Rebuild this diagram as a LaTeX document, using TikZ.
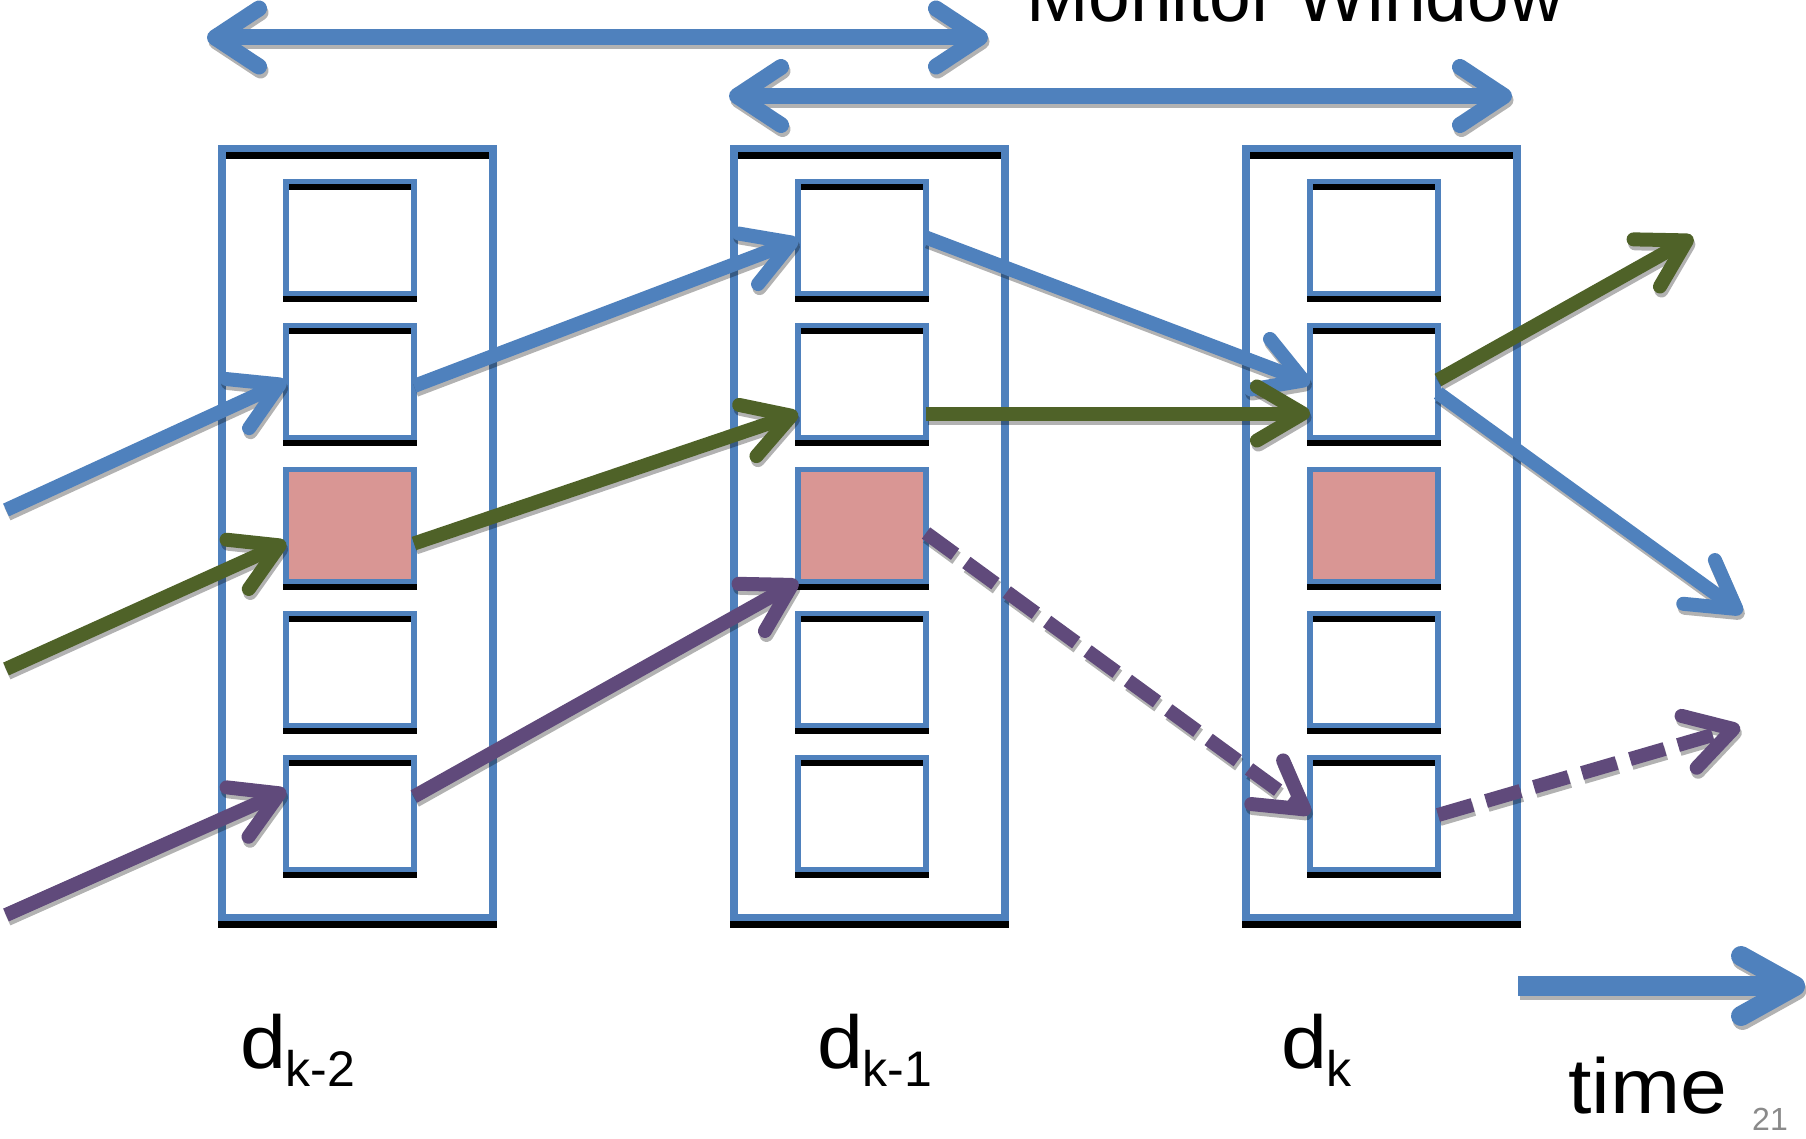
\documentclass[tikz,border=0pt]{standalone}
\usepackage{fontspec}
\setmainfont{Liberation Sans}
\usepackage{graphicx}
\usetikzlibrary{arrows.meta,calc}
\definecolor{oblue}{HTML}{4F81BD}
\definecolor{ogreen}{HTML}{4F6228}
\definecolor{opurple}{HTML}{604A7B}
\definecolor{opink}{HTML}{D99694}
\definecolor{pgnum}{HTML}{8A8A8A}
\pgfdeclarelayer{bglayer}
\pgfdeclarelayer{shadowlayer}
\pgfsetlayers{bglayer,shadowlayer,main}
\newcommand\dsub[1]{\scalebox{1.1}[1]{d}\raisebox{-18pt}{\fontsize{50}{50}\selectfont #1}}
\newcommand\flows{%
  \draw[span,bflow] (w1a) -- (w1b);
  \draw[span,bflow] (w2a) -- (w2b);
  \draw[timearrow,bflow] (t0) -- (t1);
  \draw[conn,bflow] (bin) -- (c1-2.west);
  \draw[conn,bflow] ($(c1-2.east)+(0,4.5)$) -- ($(c2-1.west)+(0,2.5)$);
  \draw[conn,bflow] (c2-1.east) -- ($(c3-2.west)+(0,1.5)$);
  \draw[conn,bflow] ($(c3-2.east)+(0,11.5)$) -- (bout);
  \draw[conn,gflow] (gin) -- ($(c1-3.west)+(0,17)$);
  \draw[conn,gflow] ($(c1-3.east)+(0,18)$) -- ($(c2-2.west)+(0,32)$);
  \draw[conn,gflow] ($(c2-2.east)+(0,32)$) -- ($(c3-2.west)+(0,32)$);
  \draw[conn,gflow] ($(c3-2.east)+(0,-1.5)$) -- (gout);
  \draw[conn,pflow] (pin) -- ($(c1-5.west)+(0,-23)$);
  \draw[conn,pflow] ($(c1-5.east)+(0,-17)$) -- (c2-3.south west);
  \draw[conn,pflow,dashed flow] ($(c2-3.east)+(0,7.5)$) -- (c3-5.west);
  \draw[conn,pflow,dashed flow] ($(c3-5.east)+(0,1.5)$) -- (pout);
}
\begin{document}
\begin{tikzpicture}[x=1pt,y=-1pt,
  column/.style={draw=oblue, line width=7.5pt, rectangle, inner sep=0pt, outer sep=0pt,
    minimum width=271pt, minimum height=769pt},
  cell/.style={draw=oblue, line width=5.5pt, rectangle, inner sep=0pt, outer sep=0pt,
    minimum width=128pt, minimum height=112pt},
  conn/.style={line width=14pt, -{Straight Barb[length=46pt,width=54pt,round]}},
  span/.style={line width=16pt,
    {Straight Barb[length=44pt,width=58pt,round]}-{Straight Barb[length=44pt,width=58pt,round]}},
  timearrow/.style={line width=20pt, -{Straight Barb[length=54pt,width=60pt,round]}},
  bflow/.style={draw=oblue},
  gflow/.style={draw=ogreen},
  pflow/.style={draw=opurple},
  dashed flow/.style={dash pattern=on 36pt off 14pt},
  lbl/.style={inner sep=0pt, outer sep=0pt, font=\fontsize{75}{80}\selectfont}]
\useasboundingbox (0,0) rectangle (1806,1139);
\clip (0,0) rectangle (1806,1139);
\begin{pgfonlayer}{bglayer}
  \fill[white] (0,0) rectangle (1806,1139);
\end{pgfonlayer}
% columns and cells
\foreach \i in {1,2,3}{
  \node[column] (col\i) at ({357.5+512*(\i-1)},533) {};
  \foreach \j/\f in {1/none,2/none,3/opink,4/none,5/none}
    \node[cell, fill=\f] (c\i-\j) at ({350+512*(\i-1)},{237.5+144*(\j-1)}) {};
}
% box shadows
\begin{pgfonlayer}{shadowlayer}
\foreach \i in {1,2,3}{
  \draw[black,line width=7.5pt] ($(col\i.north west)+(0,6.5)$) rectangle ($(col\i.south east)+(0,6.5)$);
  \foreach \j in {1,...,5}
    \draw[black,line width=5.5pt] ($(c\i-\j.north west)+(0,5.5)$) rectangle ($(c\i-\j.south east)+(0,5.5)$);
}
\end{pgfonlayer}
% free ends
\coordinate (w1a) at (207,37.5);
\coordinate (w1b) at (988,37.5);
\coordinate (w2a) at (729,96);
\coordinate (w2b) at (1512,96);
\coordinate (t0) at (1518,986);
\coordinate (t1) at (1805,986);
\coordinate (bin) at (6,510);
\coordinate (bout) at (1742,613);
\coordinate (gin) at (6,669);
\coordinate (gout) at (1693,237);
\coordinate (pin) at (6,915);
\coordinate (pout) at (1740,727);
% arrow shadows
\begin{scope}[transform canvas={shift={(1.5pt,-4pt)}},
  bflow/.style={draw=black,draw opacity=.3},
  gflow/.style={draw=black,draw opacity=.3},
  pflow/.style={draw=black,draw opacity=.3}]
  \flows
\end{scope}
\flows
% labels
\node[lbl, anchor=base west] (mw) at (1026,22) {Monitor Window};
\node[lbl, anchor=base west] (dk2) at (240,1068) {\dsub{k-2}};
\node[lbl, anchor=base west] (dk1) at (817,1068) {\dsub{k-1}};
\node[lbl, anchor=base west] (dk0) at (1281,1068) {\dsub{k}};
\node[lbl, anchor=base west, font=\fontsize{78}{80}\selectfont] (timelbl) at (1568,1113) {\scalebox{1.08}[1]{time}};
\node[inner sep=0pt, anchor=base west, font=\fontsize{32}{32}\selectfont, text=pgnum] (pnum) at (1752,1130) {21};
\end{tikzpicture}
\end{document}
